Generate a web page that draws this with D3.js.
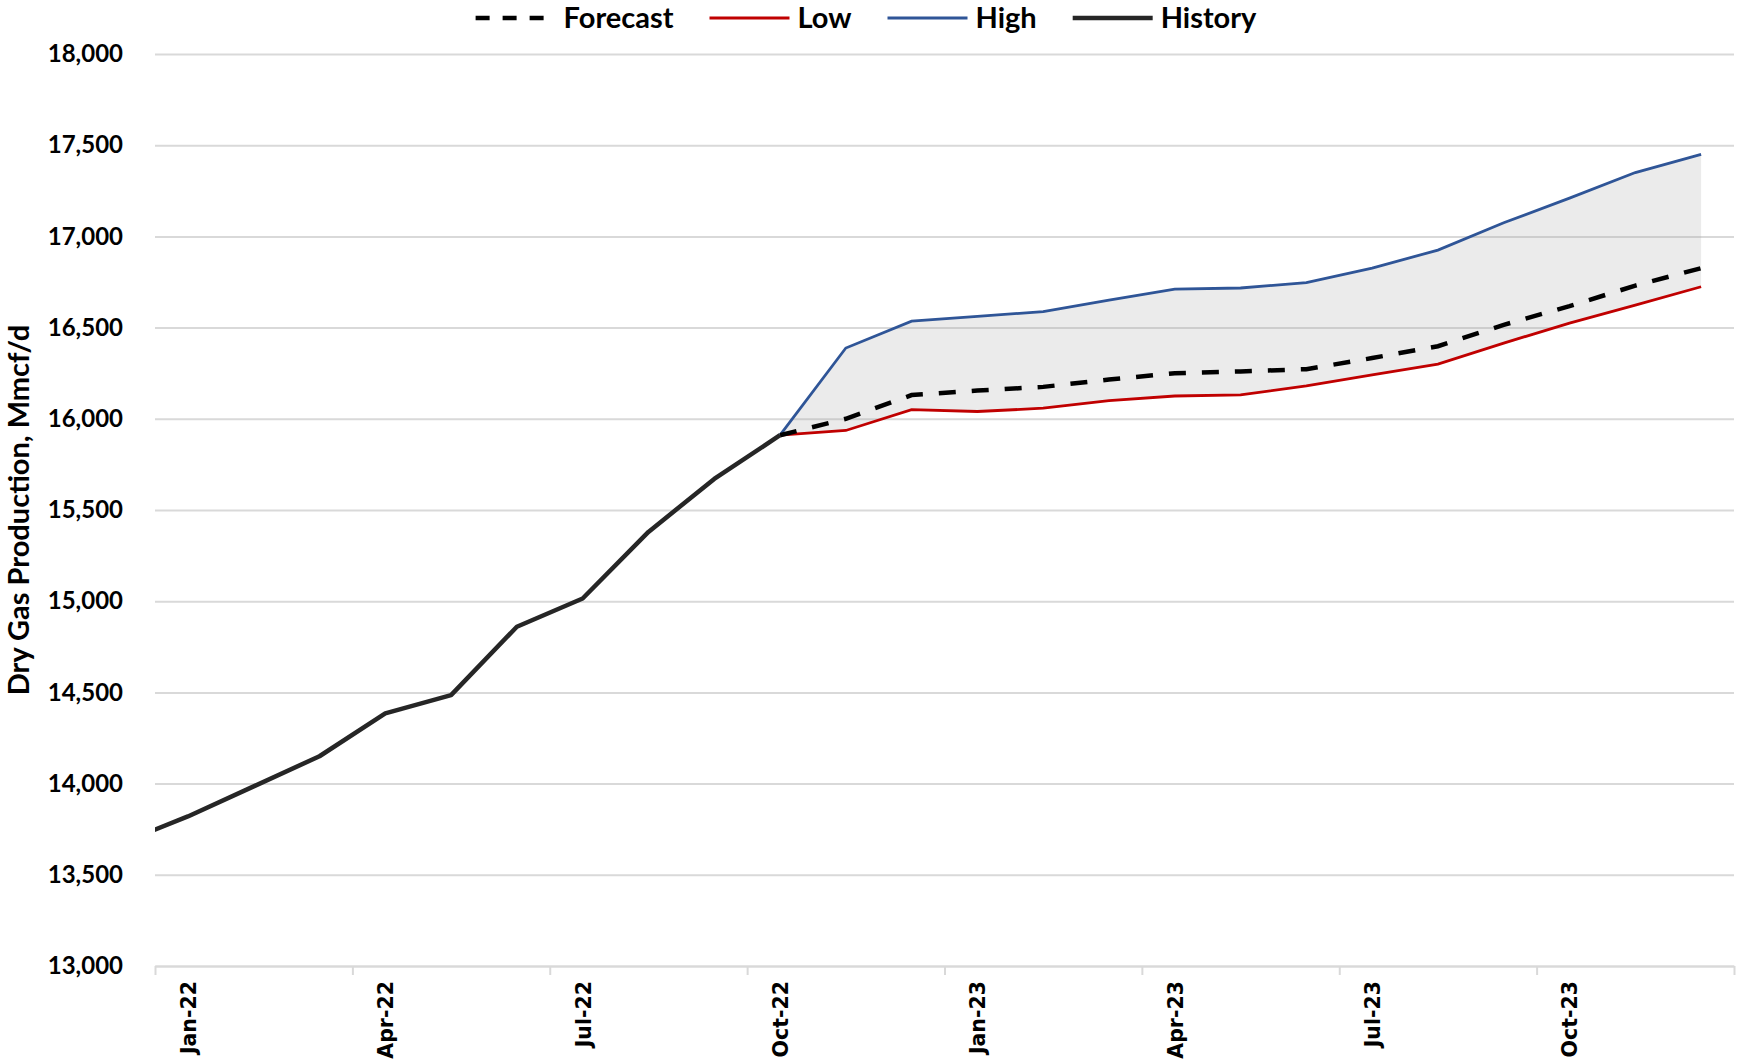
<!DOCTYPE html>
<html>
<head>
<meta charset="utf-8">
<script src="https://cdn.jsdelivr.net/npm/d3@7"></script>
<style>
  body { margin: 0; background: #fff; }
  svg { display: block; }
</style>
</head>
<body>
<div class="chart"></div>
<script>
// month slots on the x axis (Jan-22 .. Dec-23), only every 3rd is labelled
var months = ["Jan-22","Feb-22","Mar-22","Apr-22","May-22","Jun-22","Jul-22","Aug-22","Sep-22","Oct-22","Nov-22","Dec-22",
              "Jan-23","Feb-23","Mar-23","Apr-23","May-23","Jun-23","Jul-23","Aug-23","Sep-23","Oct-23","Nov-23","Dec-23"];
var tickLabels = ["Jan-22","Apr-22","Jul-22","Oct-22","Jan-23","Apr-23","Jul-23","Oct-23"];
var yTicks = [13000,13500,14000,14500,15000,15500,16000,16500,17000,17500,18000];

// history starts one month before the axis (Dec-21), it gets clipped at the edge
// (note: can't call it "history", that's window.history)
var historyMonths = ["Dec-21","Jan-22","Feb-22","Mar-22","Apr-22","May-22","Jun-22","Jul-22","Aug-22","Sep-22","Oct-22"];
var historyValues = [13675,13820,13985,14150,14385,14485,14860,15015,15380,15670,15910];

var forecastMonths = months.slice(9);   // Oct-22 .. Dec-23
var forecast = [15910,16000,16130,16155,16175,16215,16250,16260,16272,16333,16398,16515,16618,16730,16826];
var low      = [15910,15936,16050,16040,16058,16100,16125,16131,16180,16241,16300,16415,16525,16623,16724];
var high     = [15910,16388,16535,16561,16588,16651,16711,16717,16747,16826,16925,17075,17210,17350,17450];

var svgWidth = 1739;
var svgHeight = 1062;
var chartMargin = { top: 54, bottom: 96, left: 155, right: 5 };
var chartWidth = svgWidth - chartMargin.left - chartMargin.right;
var chartHeight = svgHeight - chartMargin.top - chartMargin.bottom;

var svg = d3.select(".chart").append("svg")
    .attr("width", svgWidth)
    .attr("height", svgHeight);

var chartGroup = svg.append("g")
    .attr("transform", `translate(${chartMargin.left}, ${chartMargin.top})`);

// month index -> slot; a point sits in the middle of its slot
function monthIndex(m) {
    if (m == "Dec-21") return -1;
    return months.indexOf(m);
}
var xScale = d3.scaleLinear()
    .domain([0, months.length])
    .range([0, chartWidth]);
var yScale = d3.scaleLinear()
    .domain([13000, 18000])
    .range([chartHeight, 0]);
var xPos = m => xScale(monthIndex(m) + 0.5);

// gridlines
chartGroup.append("g")
    .attr("class", "grid")
    .call(d3.axisLeft(yScale).tickValues(yTicks).tickSize(-chartWidth).tickFormat(""))
    .call(g => g.select(".domain").remove())
    .call(g => g.selectAll("line").attr("stroke", "#d9d9d9").attr("stroke-width", 2));

// y labels
chartGroup.append("g")
    .call(d3.axisLeft(yScale).tickValues(yTicks).tickSize(0).tickPadding(32).tickFormat(d3.format(",")))
    .call(g => g.select(".domain").remove())
    .call(g => g.selectAll("text")
        .attr("font-family", "Lato, sans-serif")
        .attr("font-weight", "bold")
        .attr("font-size", 24)
        .attr("fill", "#000"));

// x axis: tick marks at slot borders every 3 months
var tickPos = d3.range(0, months.length + 1, 3);
chartGroup.append("g")
    .attr("transform", `translate(0, ${chartHeight})`)
    .call(d3.axisBottom(xScale).tickValues(tickPos).tickSize(9).tickSizeOuter(0).tickFormat(""))
    .call(g => g.select(".domain").attr("stroke", "#d9d9d9").attr("stroke-width", 2))
    .call(g => g.selectAll(".tick line").attr("stroke", "#d9d9d9").attr("stroke-width", 2));

chartGroup.append("g")
    .attr("transform", `translate(0, ${chartHeight})`)
    .call(d3.axisBottom(xScale)
        .tickValues(tickLabels.map(m => monthIndex(m) + 0.5))
        .tickSize(0)
        .tickFormat((d, i) => tickLabels[i]))
    .call(g => g.select(".domain").remove())
    .call(g => g.selectAll("text")
        .attr("font-family", "'DejaVu Sans', sans-serif")
        .attr("font-weight", "bold")
        .attr("font-size", 20.5)
        .attr("fill", "#000")
        .attr("transform", "rotate(-90)")
        .attr("text-anchor", "end")
        .attr("x", -15)
        .attr("y", 0)
        .attr("dy", "0.36em"));

// y axis title
svg.append("text")
    .attr("transform", "rotate(-90)")
    .attr("x", -510)
    .attr("y", 29)
    .attr("text-anchor", "middle")
    .attr("font-family", "Lato, sans-serif")
    .attr("font-weight", "bold")
    .attr("font-size", 29)
    .text("Dry Gas Production, Mmcf/d");

// clip so the Dec-21 point stays outside
svg.append("defs").append("clipPath")
    .attr("id", "plotclip")
    .append("rect")
    .attr("width", chartWidth)
    .attr("height", chartHeight);

var plot = chartGroup.append("g").attr("clip-path", "url(#plotclip)");

var band = forecastMonths.map((m, i) => ({ m: m, lo: low[i], hi: high[i] }));
plot.append("path")
    .datum(band)
    .attr("fill", "#a6a6a6")
    .attr("fill-opacity", 0.22)
    .attr("d", d3.area().x(d => xPos(d.m)).y0(d => yScale(d.lo)).y1(d => yScale(d.hi)));

var line = d3.line().x(d => xPos(d[0])).y(d => yScale(d[1]));

plot.append("path")
    .datum(d3.zip(forecastMonths, high))
    .attr("fill", "none")
    .attr("stroke", "#2f5597")
    .attr("stroke-width", 2.8)
    .attr("d", line);

plot.append("path")
    .datum(d3.zip(forecastMonths, low))
    .attr("fill", "none")
    .attr("stroke", "#c00000")
    .attr("stroke-width", 2.8)
    .attr("d", line);

plot.append("path")
    .datum(d3.zip(forecastMonths, forecast))
    .attr("fill", "none")
    .attr("stroke", "#000")
    .attr("stroke-width", 4.5)
    .attr("stroke-dasharray", "17,16")
    .attr("d", line);

plot.append("path")
    .datum(d3.zip(historyMonths, historyValues))
    .attr("fill", "none")
    .attr("stroke", "#262626")
    .attr("stroke-width", 4.5)
    .attr("stroke-linejoin", "round")
    .attr("d", line);

// legend
var legendItems = [
    { name: "Forecast", color: "#000", width: 4.5, dash: "14,13" },
    { name: "Low", color: "#c00000", width: 2.8, dash: null },
    { name: "High", color: "#2f5597", width: 2.8, dash: null },
    { name: "History", color: "#262626", width: 4.5, dash: null }
];
var legend = svg.append("g");
var lx = 0;
legendItems.forEach(function (item) {
    var g = legend.append("g").attr("transform", `translate(${lx}, 0)`);
    g.append("line")
        .attr("x1", 0).attr("x2", 80)
        .attr("y1", 0).attr("y2", 0)
        .attr("stroke", item.color)
        .attr("stroke-width", item.width)
        .attr("stroke-dasharray", item.dash);
    var t = g.append("text")
        .attr("x", 88)
        .attr("dy", "0.35em")
        .attr("font-family", "Lato, sans-serif")
        .attr("font-weight", "bold")
        .attr("font-size", 29)
        .text(item.name);
    lx += 88 + t.node().getComputedTextLength() + 36;
});
lx -= 36;
legend.attr("transform", `translate(${866 - lx / 2}, 18)`);
</script>
</body>
</html>
